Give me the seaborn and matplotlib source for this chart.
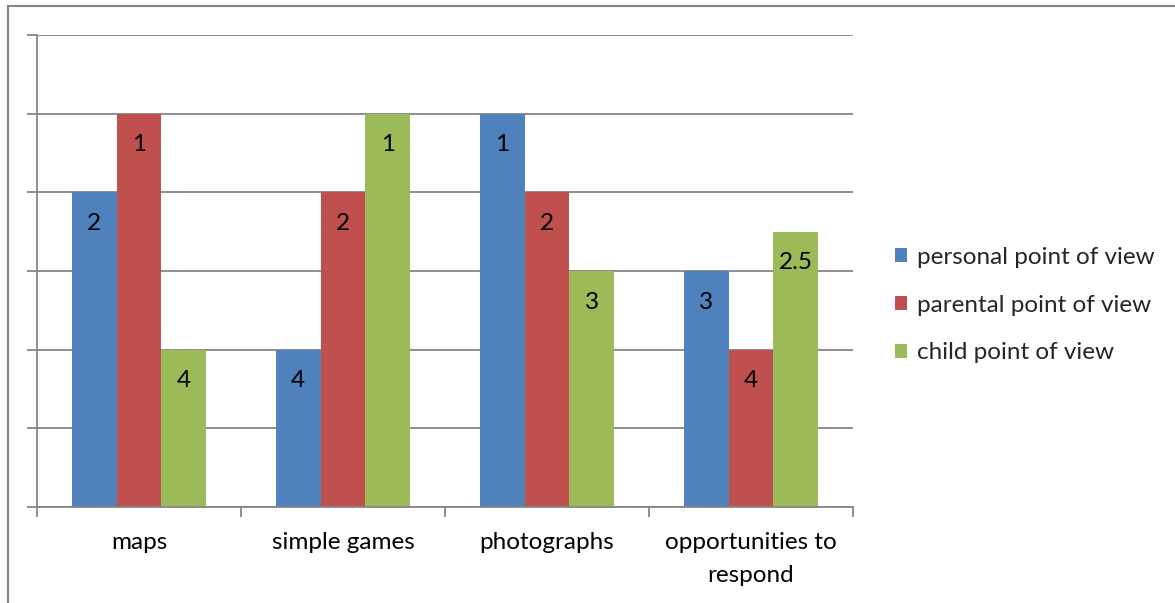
import matplotlib
matplotlib.use("Agg")
import matplotlib.pyplot as plt
from matplotlib.patches import Rectangle, Patch
import seaborn as sns
import pandas as pd

categories = ["maps", "simple games", "photographs", "opportunities to\nrespond"]
series_names = ["personal point of view", "parental point of view", "child point of view"]
personal_heights = [4, 2, 5, 3]
parental_heights = [5, 4, 4, 2]
child_heights = [2, 5, 3, 3.5]
personal_labels = ["2", "4", "1", "3"]
parental_labels = ["1", "2", "2", "4"]
child_labels = ["4", "1", "3", "2.5"]
colors = ["#4F81BD", "#C0504D", "#9BBB59"]

sns.set_theme(style="white")
plt.rcParams["font.family"] = ["Lato", "DejaVu Sans"]

rows = []
for name, vals in zip(series_names, [personal_heights, parental_heights, child_heights]):
    for c, v in zip(categories, vals):
        rows.append({"category": c, "series": name, "value": v})
df = pd.DataFrame(rows)

FS = 17.5
W, H = 1175, 603
fig = plt.figure(figsize=(W / 100, H / 100), dpi=100)
ax = fig.add_axes([37 / W, 1 - 507 / H, (853 - 37) / W, (507 - 35) / H])

sns.barplot(data=df, x="category", y="value", hue="series", order=categories,
            hue_order=series_names, palette=colors, width=0.66, saturation=1,
            linewidth=0, ax=ax, legend=False)

grid_c = "#868686"
ax.set_xlim(-0.5, 3.5)
ax.set_ylim(0, 6)
ax.set_yticks(range(0, 7))
ax.set_yticklabels([])
ax.yaxis.grid(True, color=grid_c, linewidth=1.3)
ax.set_axisbelow(True)
ax.tick_params(axis="y", length=7, width=1.3, color=grid_c, left=True, direction="out")
ax.set_xticks([-0.5, 0.5, 1.5, 2.5, 3.5])
ax.set_xticklabels([])
ax.set_xticks(range(4), minor=True)
ax.set_xticklabels(categories, minor=True, fontsize=FS, color="black", linespacing=1.7)
ax.tick_params(axis="x", which="major", length=7, width=1.3, color=grid_c, bottom=True, direction="out")
ax.tick_params(axis="x", which="minor", length=0, pad=18)
ax.set_xlabel("")
ax.set_ylabel("")
for s in ["top", "right"]:
    ax.spines[s].set_visible(False)
for s in ["left", "bottom"]:
    ax.spines[s].set_color(grid_c)
    ax.spines[s].set_linewidth(1.3)

for cont, labs in zip(ax.containers, [personal_labels, parental_labels, child_labels]):
    ax.bar_label(cont, labels=labs, label_type="edge", padding=-30, fontsize=FS, color="black")

handles = [Patch(facecolor=c, edgecolor="none") for c in colors]
fig.legend(handles, series_names, loc="center left", bbox_to_anchor=(873 / W, 1 - 305 / H),
           frameon=False, fontsize=FS, handlelength=0.5, handleheight=0.5,
           handletextpad=0.4, labelspacing=1.1)

fig.add_artist(Rectangle((8 / W, -0.1), 1.2, (1 - 6 / H) + 0.1, transform=fig.transFigure,
                         fill=False, edgecolor=grid_c, linewidth=1.5))

fig.savefig("out.png", dpi=100, facecolor="white")
